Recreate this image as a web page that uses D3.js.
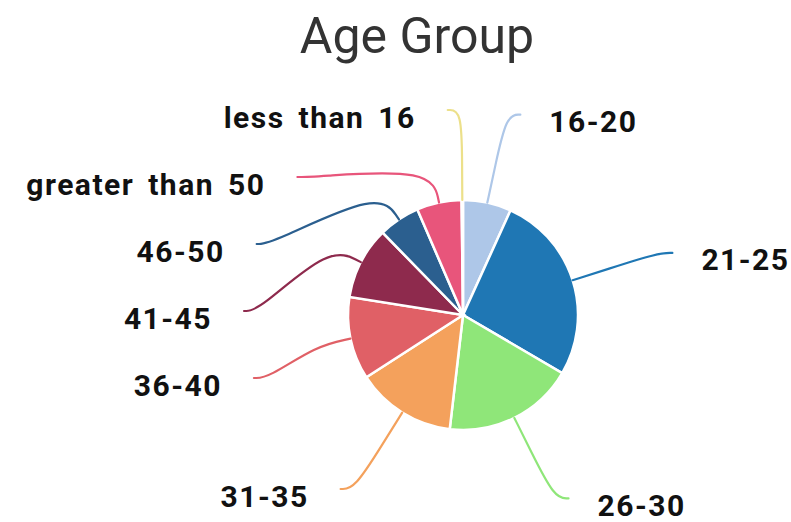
<!DOCTYPE html>
<html>
<head>
<meta charset="utf-8">
<script src="https://cdn.jsdelivr.net/npm/d3@7"></script>
<style>
  body { margin: 0; background: #fff; }
  .ChartTitle { font-family: Roboto, sans-serif; font-size: 50px; fill: #333; }
  .SliceLabel { font-family: Roboto, sans-serif; font-size: 30px; font-weight: bold; fill: #111; letter-spacing: 1.5px; word-spacing: 5px; }
</style>
</head>
<body>
<div id="ChartContainer"></div>
<script>
// data, in slice order (clockwise from 12 o'clock)
var categories = ["16-20", "21-25", "26-30", "31-35", "36-40", "41-45", "46-50", "greater than 50", "less than 16"]
var counts = [14, 55, 38, 29, 24, 21, 12, 13, 0.4]
var colors = ["#aec7e8", "#1f77b4", "#8fe679", "#f4a15c", "#e06066", "#8e2a4d", "#2b5f8f", "#e8557b", "#ece08a"]

var fullWidth = 791
var fullHeight = 522
var cx = 463
var cy = 315
var radius = 115
var labelRadius = 205
var labelGap = 67
var tail = 14

var svg = d3.select("#ChartContainer").append("svg")
  .attr("width", fullWidth)
  .attr("height", fullHeight)

// Chart title
svg.append("text")
  .attr("class", "ChartTitle")
  .attr("x", 417)
  .attr("y", 53)
  .attr("text-anchor", "middle")
  .text("Age Group")

var data = categories.map((c, i) => ({ name: c, value: counts[i], color: colors[i] }))

var pie = d3.pie().sort(null).value(d => d.value)
var arc = d3.arc().innerRadius(0).outerRadius(radius)
var arcs = pie(data)

var g = svg.append("g")
  .attr("transform", `translate(${cx},${cy})`)

g.selectAll(".Slice")
  .data(arcs)
  .enter().append("path")
  .attr("class", "Slice")
  .attr("d", arc)
  .attr("fill", d => d.data.color)
  .attr("stroke", "#fff")
  .attr("stroke-width", 2.5)

// label positions: start on a circle, then push apart vertically per side
var polar = (r, a) => [r * Math.sin(a), -r * Math.cos(a)]
var labels = arcs.map(d => {
  var a = (d.startAngle + d.endAngle) / 2
  var p = polar(labelRadius, a)
  return { d: d, a: a, side: Math.sin(a) >= 0 ? 1 : -1, x: p[0], y: p[1], moved: false }
})
;[1, -1].forEach(side => {
  var list = labels.filter(l => l.side === side).sort((a, b) => a.y - b.y)
  list.forEach((l, i) => {
    if (i > 0 && l.y < list[i - 1].y + labelGap) {
      l.y = list[i - 1].y + labelGap
      l.moved = true
    }
    if (l.moved) {
      l.x = side * Math.sqrt(Math.max(0, labelRadius * labelRadius - l.y * l.y))
    }
  })
})

var line = d3.line().curve(d3.curveBasis)

labels.forEach(l => {
  var edge = polar(radius, l.a)
  var out = polar(radius + 35, l.a)
  var endX = l.x + l.side * tail
  g.append("path")
    .attr("d", line([edge, out, [l.x, l.y], [endX, l.y]]))
    .attr("fill", "none")
    .attr("stroke", l.d.data.color)
    .attr("stroke-width", 2.2)
    .attr("stroke-linecap", "round")

  g.append("text")
    .attr("class", "SliceLabel")
    .attr("x", endX + l.side * (l.side > 0 ? 29 : 32))
    .attr("y", l.y + 7)
    .attr("dominant-baseline", "central")
    .attr("text-anchor", l.side > 0 ? "start" : "end")
    .text(l.d.data.name)
})
</script>
</body>
</html>
